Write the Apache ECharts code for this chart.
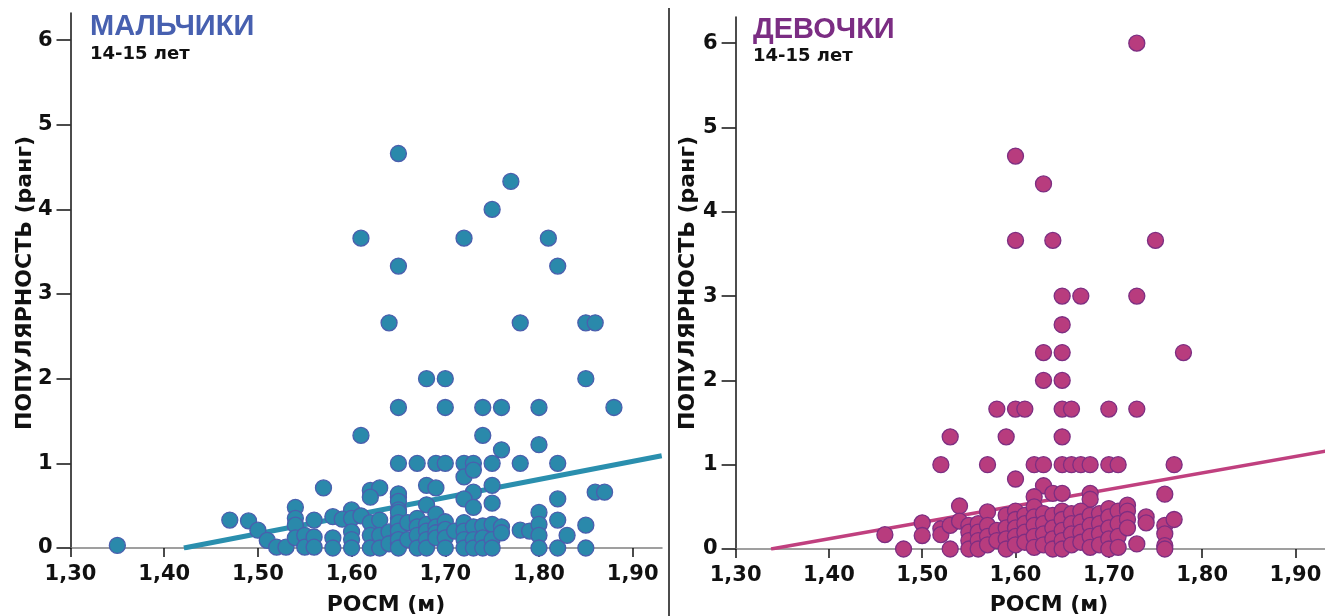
<!DOCTYPE html>
<html>
<head>
<meta charset="utf-8">
<script src="https://cdn.jsdelivr.net/npm/echarts@6/dist/echarts.min.js"></script>
<style>
html,body{margin:0;padding:0;background:#fff;}
#chart{width:1325px;height:616px;}
</style>
</head>
<body>
<div id="chart"></div>
<script>
// ---------- DATA ----------
const xTicks = [1.30, 1.40, 1.50, 1.60, 1.70, 1.80, 1.90];
const yTicks = [0, 1, 2, 3, 4, 5, 6];

const boysPoints = [
  [1.35,0.03],
  [1.65,4.66],[1.77,4.33],[1.75,4.0],[1.61,3.66],[1.72,3.66],[1.81,3.66],[1.65,3.33],[1.82,3.33],
  [1.64,2.66],[1.78,2.66],[1.85,2.66],[1.86,2.66],[1.68,2.0],[1.70,2.0],[1.85,2.0],
  [1.65,1.66],[1.70,1.66],[1.74,1.66],[1.76,1.66],[1.80,1.66],[1.88,1.66],
  [1.61,1.33],[1.74,1.33],[1.76,1.16],[1.80,1.22],
  [1.65,1.0],[1.67,1.0],[1.69,1.0],[1.70,1.0],[1.72,1.0],[1.73,1.0],[1.75,1.0],[1.78,1.0],[1.82,1.0],
  [1.72,0.84],[1.73,0.92],[1.68,0.74],[1.69,0.71],[1.73,0.66],[1.75,0.74],[1.86,0.66],[1.87,0.66],
  [1.82,0.58],[1.72,0.58],[1.65,0.6],[1.65,0.64],[1.57,0.71],[1.62,0.68],[1.63,0.71],[1.62,0.6],
  [1.75,0.53],[1.73,0.48],[1.68,0.51],[1.65,0.55],[1.80,0.42],[1.54,0.48],[1.60,0.45],
  [1.47,0.33],[1.49,0.32],[1.50,0.21],[1.51,0.09],[1.52,0.01],[1.53,0.01],
  [1.54,0.35],[1.54,0.27],[1.54,0.12],[1.55,0.15],[1.55,0.01],[1.56,0.33],[1.56,0.13],[1.56,0.01],
  [1.58,0.37],[1.58,0.12],[1.58,0.0],[1.59,0.34],[1.60,0.35],[1.60,0.19],[1.60,0.1],[1.60,0.0],
  [1.61,0.38],[1.62,0.3],[1.62,0.15],[1.62,0.0],[1.63,0.33],[1.63,0.15],[1.63,0.0],[1.64,0.19],[1.64,0.05],
  [1.65,0.45],[1.65,0.35],[1.65,0.25],[1.65,0.15],[1.65,0.05],[1.65,0.42],[1.65,0.3],[1.65,0.2],[1.65,0.1],[1.65,0.0],
  [1.66,0.3],[1.66,0.1],[1.67,0.35],[1.67,0.25],[1.67,0.15],[1.67,0.0],
  [1.68,0.28],[1.68,0.2],[1.68,0.1],[1.68,0.0],[1.69,0.4],[1.69,0.25],[1.69,0.18],[1.69,0.12],
  [1.70,0.31],[1.70,0.22],[1.70,0.12],[1.70,0.0],[1.71,0.2],
  [1.72,0.3],[1.72,0.2],[1.72,0.1],[1.72,0.0],[1.73,0.25],[1.73,0.1],[1.73,0.0],
  [1.74,0.26],[1.74,0.12],[1.74,0.0],[1.75,0.28],[1.75,0.1],[1.75,0.0],[1.76,0.25],[1.76,0.18],
  [1.78,0.21],[1.79,0.2],[1.80,0.28],[1.80,0.15],[1.80,0.0],[1.82,0.33],[1.82,0.0],[1.83,0.15],
  [1.85,0.27],[1.85,0.0]
];

const girlsPoints = [
  [1.73,6.0],[1.60,4.66],[1.63,4.33],[1.60,3.66],[1.64,3.66],[1.75,3.66],
  [1.65,3.0],[1.67,3.0],[1.73,3.0],[1.65,2.66],[1.63,2.33],[1.65,2.33],[1.78,2.33],[1.63,2.0],[1.65,2.0],
  [1.58,1.66],[1.60,1.66],[1.61,1.66],[1.65,1.66],[1.66,1.66],[1.70,1.66],[1.73,1.66],
  [1.53,1.33],[1.59,1.33],[1.65,1.33],
  [1.52,1.0],[1.57,1.0],[1.62,1.0],[1.63,1.0],[1.65,1.0],[1.66,1.0],[1.67,1.0],[1.68,1.0],[1.70,1.0],[1.71,1.0],[1.77,1.0],
  [1.60,0.83],[1.63,0.75],[1.62,0.62],[1.64,0.66],[1.65,0.66],[1.68,0.66],[1.68,0.59],[1.76,0.65],[1.54,0.51],
  [1.50,0.31],[1.50,0.16],[1.46,0.17],[1.48,0.0],[1.52,0.24],[1.52,0.17],[1.53,0.28],[1.53,0.0],[1.54,0.33],
  [1.55,0.28],[1.55,0.2],[1.55,0.1],[1.55,0.0],[1.56,0.3],[1.56,0.2],[1.56,0.1],[1.56,0.0],
  [1.57,0.44],[1.57,0.28],[1.57,0.15],[1.57,0.05],[1.58,0.22],[1.58,0.1],
  [1.59,0.4],[1.59,0.25],[1.59,0.12],[1.59,0.0],[1.60,0.45],[1.60,0.35],[1.60,0.25],[1.60,0.15],[1.60,0.05],
  [1.61,0.4],[1.61,0.3],[1.61,0.2],[1.61,0.08],[1.62,0.5],[1.62,0.38],[1.62,0.28],[1.62,0.15],[1.62,0.02],
  [1.63,0.42],[1.63,0.3],[1.63,0.18],[1.63,0.05],[1.64,0.4],[1.64,0.25],[1.64,0.12],[1.64,0.0],
  [1.65,0.45],[1.65,0.35],[1.65,0.22],[1.65,0.1],[1.65,0.0],[1.66,0.42],[1.66,0.3],[1.66,0.18],[1.66,0.05],
  [1.67,0.45],[1.67,0.32],[1.67,0.2],[1.67,0.08],[1.68,0.4],[1.68,0.28],[1.68,0.15],[1.68,0.02],
  [1.69,0.42],[1.69,0.3],[1.69,0.18],[1.69,0.05],[1.70,0.48],[1.70,0.38],[1.70,0.25],[1.70,0.12],[1.70,0.0],
  [1.71,0.45],[1.71,0.3],[1.71,0.15],[1.71,0.02],[1.72,0.52],[1.72,0.45],[1.72,0.35],[1.72,0.25],
  [1.73,0.06],[1.74,0.38],[1.74,0.31],[1.76,0.28],[1.76,0.18],[1.76,0.04],[1.76,0.0],[1.77,0.35]
];

const boysTrend = [[1.421, 0], [1.931, 1.09]];
const girlsTrend = [[1.338, 0], [1.932, 1.16]];

const boysTitle = 'МАЛЬЧИКИ';
const girlsTitle = 'ДЕВОЧКИ';
const ageLabel = '14-15 лет';
const xName = 'РОСМ (м)';
const yName = 'ПОПУЛЯРНОСТЬ (ранг)';

// ---------- STYLE ----------
const FONT = "'Liberation Sans', Arial, sans-serif";
const FONT2 = "'DejaVu Sans', 'Liberation Sans', sans-serif";
const boysFill = '#2a89ab', boysEdge = '#4a5fae', boysLine = '#2a8fae';
const girlsFill = '#b83c7e', girlsEdge = '#7d2e82', girlsLine = '#c0407f';

function xAxisCfg(gi, max) {
  return {
    gridIndex: gi, type: 'value', min: 1.30, max: max,
    axisLine: {show: true, onZero: false, lineStyle: {color: '#808080', width: 1.5}},
    axisTick: {show: true, length: 9, lineStyle: {color: '#111', width: 1.5}, customValues: xTicks},
    axisLabel: {show: true, customValues: xTicks, margin: 16, color: '#111', fontFamily: FONT2, fontWeight: 'bold', fontSize: 21,
      formatter: v => v.toFixed(2).replace('.', ',')},
    splitLine: {show: false}
  };
}
function yAxisCfg(gi, max) {
  return {
    gridIndex: gi, type: 'value', min: 0, max: max,
    axisLine: {show: true, onZero: false, lineStyle: {color: '#111', width: 1.5}},
    axisTick: {show: true, length: 14, lineStyle: {color: '#111', width: 1.5}, customValues: yTicks},
    axisLabel: {show: true, customValues: yTicks, margin: 18, color: '#111', fontFamily: FONT2, fontWeight: 'bold', fontSize: 21,
      formatter: v => String(Math.round(v))},
    splitLine: {show: false}
  };
}

const chart = echarts.init(document.getElementById('chart'), null, {renderer: 'canvas'});
chart.setOption({
  animation: false,
  backgroundColor: '#fff',
  grid: [
    {left: 70.5, top: 13, width: 591.5, height: 535},
    {left: 735.6, top: 17, width: 589.4, height: 532}
  ],
  xAxis: [xAxisCfg(0, 1.9313), xAxisCfg(1, 1.9317)],
  yAxis: [yAxisCfg(0, 6.32), yAxisCfg(1, 6.31)],
  series: [
    {type: 'line', xAxisIndex: 0, yAxisIndex: 0, data: boysTrend, symbol: 'none', z: 1,
      lineStyle: {color: boysLine, width: 5}},
    {type: 'scatter', xAxisIndex: 0, yAxisIndex: 0, data: boysPoints, symbol: 'circle', symbolSize: 16, z: 2,
      itemStyle: {color: boysFill, borderColor: boysEdge, borderWidth: 1.3, opacity: 1}},
    {type: 'line', xAxisIndex: 1, yAxisIndex: 1, data: girlsTrend, symbol: 'none', z: 1,
      lineStyle: {color: girlsLine, width: 3.5}},
    {type: 'scatter', xAxisIndex: 1, yAxisIndex: 1, data: girlsPoints, symbol: 'circle', symbolSize: 16, z: 2,
      itemStyle: {color: girlsFill, borderColor: girlsEdge, borderWidth: 1.3, opacity: 1}}
  ],
  graphic: [
    {type: 'line', shape: {x1: 669, y1: 8, x2: 669, y2: 616}, style: {stroke: '#111', lineWidth: 1.5}, z: 10},
    {type: 'text', x: 90, y: 12, style: {text: boysTitle, fill: '#4760b0', font: "bold 29px " + FONT, textAlign: 'left', textVerticalAlign: 'top'}},
    {type: 'text', x: 90, y: 45, style: {text: ageLabel, fill: '#111', font: "bold 18px " + FONT2, textAlign: 'left', textVerticalAlign: 'top'}},
    {type: 'text', x: 753, y: 15, style: {text: girlsTitle, fill: '#7b2d83', font: "bold 29px " + FONT, textAlign: 'left', textVerticalAlign: 'top'}},
    {type: 'text', x: 753, y: 47, style: {text: ageLabel, fill: '#111', font: "bold 18px " + FONT2, textAlign: 'left', textVerticalAlign: 'top'}},
    {type: 'text', x: 386, y: 605, style: {text: xName, fill: '#111', font: "bold 22px " + FONT2, textAlign: 'center', textVerticalAlign: 'middle'}},
    {type: 'text', x: 1049, y: 605, style: {text: xName, fill: '#111', font: "bold 22px " + FONT2, textAlign: 'center', textVerticalAlign: 'middle'}},
    {type: 'text', x: 25, y: 283, rotation: Math.PI / 2, style: {text: yName, fill: '#111', font: "bold 22px " + FONT2, textAlign: 'center', textVerticalAlign: 'middle'}},
    {type: 'text', x: 688, y: 283, rotation: Math.PI / 2, style: {text: yName, fill: '#111', font: "bold 22px " + FONT2, textAlign: 'center', textVerticalAlign: 'middle'}}
  ]
});
</script>
</body>
</html>
